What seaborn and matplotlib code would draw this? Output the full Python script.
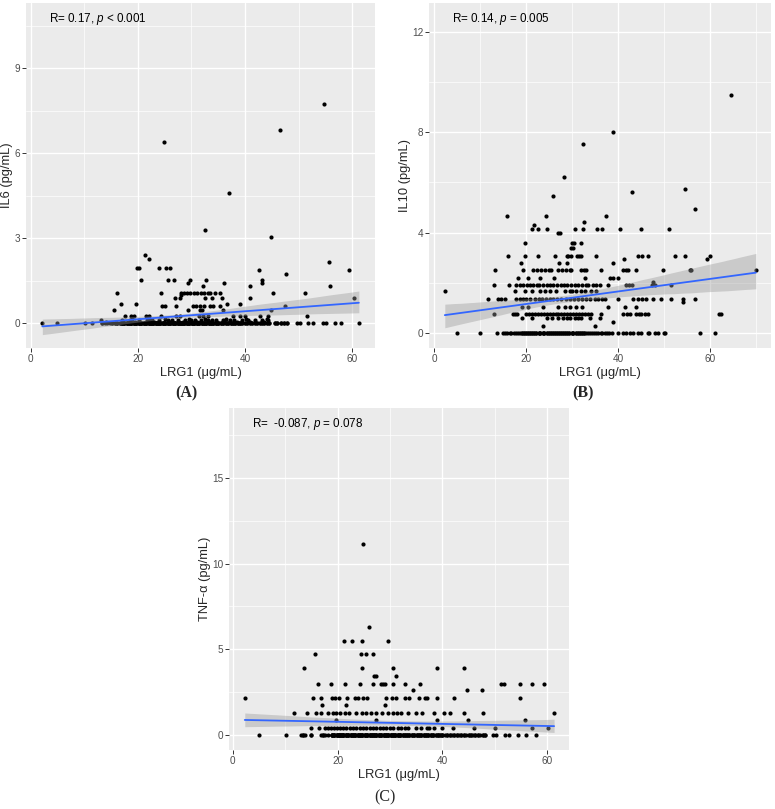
import numpy as np
import pandas as pd
import matplotlib
matplotlib.use('Agg')
import matplotlib.pyplot as plt
import seaborn as sns

# ---------------- panel A : IL6 vs LRG1 ----------------
# points sitting on the zero line: LRG1 position and how many overlap there
il6_zero_lrg1 = [2.2, 5.0, 10.1, 11.5, 13.4, 13.9, 14.3, 14.8, 15.2, 15.7, 16.1, 16.6,
                 17.0, 17.5, 17.9, 18.4, 18.8, 19.3, 19.7, 20.2, 20.6, 21.1, 21.5, 22.0,
                 22.4, 22.9, 23.3, 23.8, 24.2, 24.7, 25.1, 25.6, 26.0, 26.5, 26.9, 27.4,
                 27.8, 28.3, 28.7, 29.2, 29.6, 30.1, 30.5, 31.0, 31.4, 31.9, 32.3, 32.8,
                 33.2, 33.7, 34.1, 34.6, 35.0, 35.5, 35.9, 36.4, 36.8, 37.3, 37.7, 38.2,
                 38.6, 39.1, 39.5, 40.0, 40.4, 40.9, 41.3, 41.8, 42.2, 42.7, 43.1, 43.6,
                 44.0, 44.5, 45.5, 46.0, 46.6, 47.2, 47.8, 49.6, 50.2, 51.7, 52.7, 54.5,
                 55.0, 56.8, 57.8, 61.2]
il6_zero_n = [1, 1, 1, 1, 2, 1, 1, 1, 2, 2, 2, 2,
              4, 4, 4, 4, 5, 5, 5, 5, 5, 5, 5, 5,
              5, 5, 5, 5, 5, 5, 5, 5, 5, 5, 5, 5,
              5, 5, 5, 5, 5, 5, 5, 5, 4, 4, 4, 4,
              4, 4, 4, 4, 4, 3, 3, 3, 3, 3, 3, 3,
              3, 3, 2, 2, 2, 2, 2, 2, 2, 2, 2, 2,
              2, 2, 2, 2, 2, 2, 2, 1, 1, 1, 1, 1,
              1, 1, 1, 1]
il6_levels = [0.05, 0.1, 0.15, 0.25, 0.45, 0.6, 0.67, 0.87, 1.0, 1.08, 1.32, 1.4,
              1.52, 1.74, 1.86, 1.95, 2.17, 2.27, 2.4, 3.05, 3.28, 4.6, 6.38, 6.82, 7.73]
il6_level_lrg1 = [
    [14.0, 19.5, 23.0, 26.0, 28.5, 31.0, 33.5, 36.0, 38.5, 41.0, 43.5],
    [13.2, 17.0, 18.5, 20.3, 21.8, 22.6, 24.0, 25.7, 26.4, 27.5, 28.8, 29.9, 30.6,
     31.8, 33.0, 33.8, 34.5, 35.9, 37.2, 38.0, 39.4, 40.6, 41.9, 43.1, 44.3],
    [19.0, 22.0, 25.0, 29.5, 32.5, 36.5, 40.2, 44.0],
    [17.6, 18.7, 19.3, 21.6, 22.1, 24.3, 27.1, 27.8, 31.4, 32.2, 33.0, 37.8, 39.0,
     39.9, 42.8, 44.3, 51.6],
    [15.6, 29.4, 31.5, 32.0, 35.8, 44.9],
    [24.6, 25.1, 27.2, 30.2, 30.9, 31.5, 32.3, 33.4, 34.0, 35.3, 47.5],
    [16.8, 19.6, 36.7, 39.1],
    [26.9, 27.9, 32.5, 33.9, 35.6, 41.0, 60.3],
    [28.1],
    [16.1, 24.4, 28.0, 28.6, 29.2, 29.8, 30.4, 31.1, 31.8, 32.4, 33.0, 33.5, 34.3,
     35.3, 45.2, 51.1],
    [32.1, 41.0, 55.9],
    [29.4, 36.1, 43.2],
    [20.6, 25.7, 26.7, 29.8, 32.8, 43.2],
    [47.7],
    [42.6, 59.3],
    [19.9, 20.3, 23.9, 25.2, 26.0],
    [55.7],
    [22.0],
    [21.3],
    [44.9],
    [32.6],
    [37.0],
    [24.8],
    [46.5],
    [54.7],
]

# ---------------- panel B : IL10 vs LRG1 ----------------
il10_zero_lrg1 = [4.9, 9.9, 13.6, 15.0, 15.5, 15.9, 16.4, 16.8, 17.3, 17.7, 18.2, 18.6,
                  19.1, 19.5, 20.0, 20.4, 20.9, 21.3, 21.8, 22.2, 22.7, 23.1, 23.6, 24.0,
                  24.5, 24.9, 25.4, 25.8, 26.3, 26.7, 27.2, 27.6, 28.1, 28.5, 29.0, 29.4,
                  29.9, 30.3, 30.8, 31.2, 31.7, 32.1, 32.6, 33.0, 33.5, 33.9, 34.4, 34.8,
                  35.3, 35.7, 36.2, 36.6, 37.1, 37.5, 38.0, 38.6, 40.0, 41.1, 41.8, 42.6,
                  43.3, 44.4, 44.9, 46.5, 46.8, 48.0, 48.8, 50.0, 50.2, 57.8, 61.1]
il10_zero_n = [1, 1, 1, 1, 1, 1, 1, 1, 1, 1, 1, 1,
               2, 2, 2, 2, 2, 2, 2, 2, 2, 2, 2, 2,
               2, 2, 2, 2, 2, 2, 2, 2, 2, 2, 2, 2,
               2, 2, 2, 2, 2, 2, 2, 1, 1, 1, 1, 1,
               1, 1, 1, 1, 1, 1, 1, 1, 1, 1, 1, 1,
               1, 1, 1, 1, 1, 1, 1, 1, 1, 1, 1]
il10_levels = [0.27, 0.42, 0.58, 0.74, 1.05, 1.22, 1.34, 1.69, 1.91, 2.05, 2.2, 2.51,
               2.8, 2.94, 3.07, 3.4, 3.6, 4.0, 4.16, 4.3, 4.42, 4.67, 4.95, 5.46, 5.6,
               5.73, 6.23, 7.52, 8.01, 9.48]
il10_level_lrg1 = [
    [23.7, 34.9],
    [38.9],
    [19.0, 21.2, 24.5, 25.6, 26.9, 28.0, 28.8, 29.5, 30.6, 31.4, 32.0, 33.8, 36.0],
    [13.1, 17.1, 17.6, 18.1, 20.0, 20.6, 21.3, 21.9, 22.5, 23.2, 23.8, 24.5, 25.1,
     25.8, 26.4, 27.0, 27.7, 28.3, 29.0, 29.6, 30.2, 30.9, 31.5, 32.2, 32.8, 33.5,
     34.2, 36.4, 41.1, 42.0, 42.6, 44.0, 44.6, 45.1, 45.8, 46.5, 62.0, 62.5],
    [19.2, 20.5, 23.7, 27.0, 28.4, 29.6, 30.9, 32.1, 37.8, 41.5, 44.0],
    [54.2],
    [11.6, 13.9, 14.6, 15.4, 17.9, 18.6, 19.3, 20.0, 20.8, 21.9, 22.7, 23.5, 24.4,
     25.2, 25.9, 26.8, 27.7, 28.6, 29.5, 30.4, 31.3, 32.2, 33.1, 34.0, 34.9, 35.7,
     36.5, 37.1, 40.0, 43.3, 44.3, 45.3, 46.2, 47.6, 49.4, 51.6, 54.1, 56.7],
    [2.3, 17.6, 19.7, 21.2, 23.0, 24.1, 25.2, 26.6, 28.4, 29.5, 29.9, 30.8, 31.9,
     32.8, 34.2, 35.3],
    [13.1, 16.3, 17.8, 18.6, 19.4, 20.1, 20.9, 21.6, 22.3, 22.9, 23.7, 24.5, 25.2,
     25.9, 26.7, 27.5, 28.3, 29.0, 29.8, 30.6, 31.4, 32.2, 33.0, 33.5, 34.6, 35.3,
     36.0, 37.8, 41.8, 42.4, 43.0, 47.4, 48.0, 51.5],
    [47.6],
    [18.3, 20.5, 23.0, 26.0, 32.8, 38.2, 39.0, 40.0],
    [13.2, 19.4, 21.4, 22.3, 23.2, 24.1, 25.0, 25.5, 27.0, 27.8, 28.7, 29.5, 29.7,
     32.0, 32.6, 33.1, 36.4, 41.1, 41.7, 42.2, 44.0, 49.8, 55.6, 56.0, 70.0],
    [18.9, 27.1, 28.8, 38.9],
    [41.2, 59.3],
    [16.1, 19.7, 22.5, 26.3, 28.8, 29.2, 29.7, 31.0, 31.5, 32.0, 35.3, 44.4, 45.3,
     46.5, 52.3, 54.6, 60.0],
    [29.7, 30.1],
    [19.7, 30.0, 30.4, 32.0],
    [27.0, 27.4],
    [21.3, 22.6, 24.5, 30.6, 32.4, 35.4, 36.6, 40.4, 45.1, 51.0],
    [21.8],
    [32.6],
    [15.8, 24.3, 37.3],
    [56.7],
    [25.9],
    [43.1],
    [54.6],
    [28.2],
    [32.4],
    [38.9],
    [64.6],
]

# ---------------- panel C : TNF-a vs LRG1 ----------------
tnf_zero_lrg1 = [5.1, 10.2, 13.1, 13.4, 13.8, 15.0, 16.8, 17.2, 17.6, 18.2, 18.9, 19.3,
                 19.8, 20.2, 20.7, 21.1, 21.6, 22.0, 22.5, 22.9, 23.4, 23.8, 24.3, 24.7,
                 25.2, 25.6, 26.1, 26.5, 27.0, 27.4, 27.9, 28.3, 28.8, 29.2, 29.7, 30.1,
                 30.6, 31.0, 31.5, 31.9, 32.4, 32.8, 33.3, 33.7, 34.2, 34.6, 35.1, 35.5,
                 36.0, 36.4, 36.9, 37.3, 37.8, 38.2, 38.7, 39.1, 39.6, 40.0, 40.5, 40.9,
                 41.4, 41.8, 42.3, 42.7, 43.2, 43.6, 44.1, 44.5, 45.0, 45.4, 45.9, 46.3,
                 46.8, 47.2, 47.7, 48.1, 49.6, 50.2, 51.9, 52.7, 54.4, 56.0, 57.9]
tnf_zero_n = [1, 1, 1, 2, 1, 2, 1, 2, 1, 1, 4, 4,
              4, 5, 4, 5, 4, 4, 4, 4, 4, 4, 4, 4,
              4, 4, 4, 4, 4, 4, 4, 4, 4, 4, 4, 4,
              4, 4, 4, 4, 3, 3, 3, 3, 3, 3, 3, 3,
              3, 3, 3, 3, 3, 3, 2, 3, 2, 3, 1, 2,
              2, 1, 2, 2, 1, 2, 2, 1, 2, 2, 1, 2,
              2, 1, 2, 2, 1, 1, 1, 1, 1, 1, 1]
tnf_levels = [0.43, 0.86, 1.3, 1.73, 2.16, 2.6, 3.0, 3.46, 3.9, 4.7, 5.5, 6.3, 11.13]
tnf_level_lrg1 = [
    [15.0, 16.4, 17.6, 18.2, 18.7, 19.3, 19.9, 20.4, 21.1, 21.7, 22.3, 23.0, 23.6,
     24.3, 24.9, 25.5, 26.2, 26.8, 27.4, 28.1, 28.7, 29.3, 30.0, 30.6, 31.5, 32.1,
     32.8, 33.4, 35.0, 35.9, 37.0, 37.5, 38.4, 40.0, 42.0, 46.0, 50.1, 57.0, 60.2],
    [19.7, 27.4, 39.0, 44.9, 55.7],
    [11.7, 14.1, 15.9, 16.8, 18.2, 19.2, 19.7, 20.4, 21.4, 22.2, 23.6, 24.6, 25.5,
     26.4, 27.4, 28.4, 29.6, 30.6, 31.4, 32.1, 33.4, 34.9, 36.1, 38.4, 40.3, 41.4,
     44.2, 47.7, 61.3],
    [17.1, 21.7, 29.1],
    [2.3, 15.4, 16.9, 18.9, 19.5, 20.3, 21.8, 23.3, 23.9, 24.8, 25.7, 29.2, 30.3,
     31.1, 32.8, 33.6, 35.5, 36.6, 37.0, 39.0, 42.2, 54.7],
    [34.4, 44.7, 47.6],
    [16.2, 18.7, 21.5, 24.2, 26.8, 28.3, 28.6, 29.0, 30.6, 32.8, 35.7, 51.1, 51.7,
     54.7, 57.0, 59.4],
    [26.9, 27.4, 31.2],
    [13.6, 24.7, 30.5, 39.0, 44.1],
    [15.7, 24.4, 25.4, 26.8],
    [21.3, 22.7, 24.6, 29.6],
    [26.0],
    [24.9],
]

notes = [r'R= 0.17, $p$ < 0.001', r'R= 0.14, $p$ = 0.005', r'R=  -0.087, $p$ = 0.078']


def build_frame(zero_x, zero_n, levels, level_x):
    xs = list(np.repeat(zero_x, zero_n))
    ys = [0.0] * len(xs)
    for lv, row in zip(levels, level_x):
        xs += row
        ys += [lv] * len(row)
    return pd.DataFrame({'LRG1': xs, 'value': ys})


def draw_panel(ax, df, ylabel, xlim, ylim, yticks, yminor, xminor, note, ylab_x):
    sns.regplot(data=df, x='LRG1', y='value', ax=ax, ci=95, n_boot=1000, seed=3,
                scatter_kws=dict(s=9, color='black', linewidths=0, alpha=1),
                line_kws=dict(color='#3366FF', lw=1.3))
    # ggplot style grey ribbon
    for coll in ax.collections[1:]:
        coll.set_facecolor('#999999')
        coll.set_alpha(0.4)
        coll.set_linewidth(0)
    ax.set_xlim(*xlim)
    ax.set_ylim(*ylim)
    ax.set_xticks([0, 20, 40, 60])
    ax.set_xticks(xminor, minor=True)
    ax.set_yticks(yticks)
    ax.set_yticks(yminor, minor=True)
    ax.grid(which='major', color='white', lw=1.0)
    ax.grid(which='minor', color='white', lw=0.5)
    ax.set_axisbelow(True)
    ax.tick_params(which='major', length=2.7, width=0.7, color='#333333',
                   labelcolor='#4D4D4D', labelsize=7.2, pad=1.5)
    ax.tick_params(which='minor', length=0)
    for sp in ax.spines.values():
        sp.set_visible(False)
    ax.set_xlabel('LRG1 (μg/mL)', fontsize=9.3, labelpad=2)
    ax.set_ylabel(ylabel, fontsize=9.3, va='center')
    ax.yaxis.set_label_coords(ylab_x, 0.5)
    ax.text(0.066, 0.955, note, transform=ax.transAxes, ha='left', va='center',
            fontsize=8.4, color='black')


sns.set_theme(style='darkgrid', rc={'axes.facecolor': '#EBEBEB', 'grid.color': 'white',
                                    'xtick.bottom': True, 'ytick.left': True})
plt.rcParams['font.family'] = ['Liberation Sans', 'DejaVu Sans']
plt.rcParams['mathtext.fontset'] = 'custom'
plt.rcParams['mathtext.rm'] = 'Liberation Sans'
plt.rcParams['mathtext.it'] = 'Liberation Sans:italic'

fig = plt.figure(figsize=(7.75, 8.09), dpi=100)
fig.patch.set_facecolor('white')

ax_a = fig.add_axes([0.0335, 0.5698, 0.4503, 0.4265])
ax_b = fig.add_axes([0.5535, 0.5698, 0.4413, 0.4265])
ax_c = fig.add_axes([0.2959, 0.0729, 0.4387, 0.4224])

df_a = build_frame(il6_zero_lrg1, il6_zero_n, il6_levels, il6_level_lrg1)
df_b = build_frame(il10_zero_lrg1, il10_zero_n, il10_levels, il10_level_lrg1)
df_c = build_frame(tnf_zero_lrg1, tnf_zero_n, tnf_levels, tnf_level_lrg1)

draw_panel(ax_a, df_a, 'IL6 (pg/mL)', (-0.85, 64.2), (-0.88, 11.3),
           [0, 3, 6, 9], [1.5, 4.5, 7.5, 10.5], [10, 30, 50], notes[0], -0.054)
draw_panel(ax_b, df_b, 'IL10 (pg/mL)', (-1.15, 73.3), (-0.6, 13.15),
           [0, 4, 8, 12], [2, 6, 10], [10, 30, 50, 70], notes[1], -0.07)
draw_panel(ax_c, df_c, 'TNF-α (pg/mL)', (-0.65, 64.2), (-0.87, 19.05),
           [0, 5, 10, 15], [2.5, 7.5, 12.5, 17.5], [10, 30, 50], notes[2], -0.071)

fig.text(0.240, 0.514, '(A)', family=['Liberation Serif'], weight='bold',
         fontsize=11.5, ha='center', va='center')
fig.text(0.752, 0.514, '(B)', family=['Liberation Serif'], weight='bold',
         fontsize=11.5, ha='center', va='center')
fig.text(0.497, 0.0148, '(C)', family=['Liberation Serif'],
         fontsize=11.5, ha='center', va='center')

fig.savefig('out.png', dpi=100, facecolor='white')
